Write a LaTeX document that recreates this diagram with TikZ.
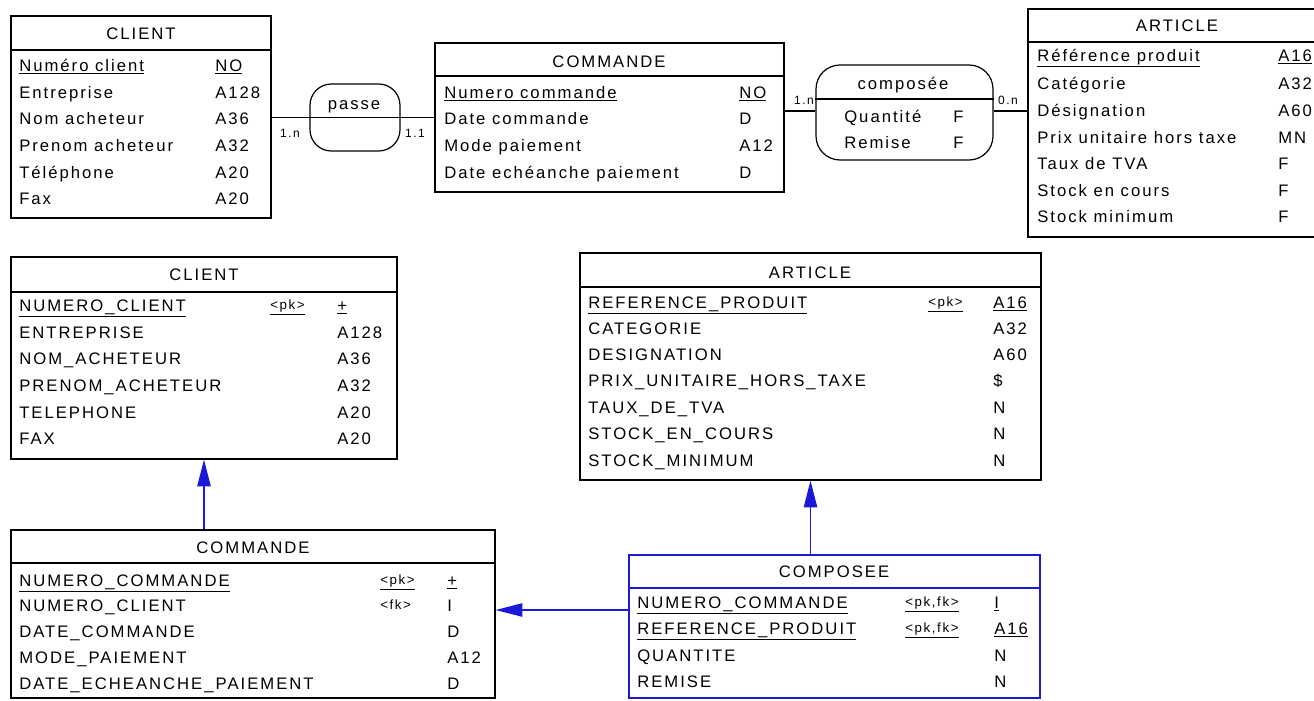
\documentclass[tikz,border=0pt]{standalone}
\usepackage{fontspec}
\setmainfont{Liberation Sans}[LetterSpace=12]
\usetikzlibrary{fit,arrows.meta}
\definecolor{pdblue}{RGB}{25,25,215}
\tikzset{
  table/.style={draw, inner sep=0pt, line width=0.9pt},
  assoc/.style={draw, inner sep=0pt, line width=0.9pt},
  headline/.style={line width=1.3pt},
  link/.style={line width=0.9pt},
  head/.style={inner sep=0pt, text height=9pt, text depth=0pt},
  attr/.style={anchor=west, inner sep=0pt, text height=9pt, text depth=0pt},
  key/.style={anchor=west, inner sep=0pt, text height=7pt, text depth=0pt, font=\fontsize{10}{12}\selectfont},
  card/.style={inner sep=0pt, font=\fontsize{9}{10}\selectfont},
  fk/.style={draw=pdblue, line width=0.9pt, -{Triangle[length=20pt,width=10pt]}}
}
\begin{document}
\begin{tikzpicture}[x=0.75pt,y=-0.75pt,font=\fontsize{12.5}{15}\selectfont]
  \path[use as bounding box, clip] (0,0) rectangle (1314,700);

  %% CLIENT (conceptual)
  \node[table, fit={(11,16) (271,218)}] (clientM) {};
  \draw[headline] (clientM.west |- 0,50) -- (clientM.east |- 0,50);
  \node[head] (clientM-h) at (141,33) {CLIENT};
  \node[attr] (clientM-1) at (19,65) {\underline{Numéro client}};
  \node[attr] (clientM-1t) at (215,65) {\underline{NO}};
  \node[attr] (clientM-2) at (19,92) {Entreprise};
  \node[attr] (clientM-2t) at (215,92) {A128};
  \node[attr] (clientM-3) at (19,118) {Nom acheteur};
  \node[attr] (clientM-3t) at (215,118) {A36};
  \node[attr] (clientM-4) at (19,145) {Prenom acheteur};
  \node[attr] (clientM-4t) at (215,145) {A32};
  \node[attr] (clientM-5) at (19,172) {Téléphone};
  \node[attr] (clientM-5t) at (215,172) {A20};
  \node[attr] (clientM-6) at (19,198) {Fax};
  \node[attr] (clientM-6t) at (215,198) {A20};

  %% COMMANDE (conceptual)
  \node[table, fit={(435,43) (784,192)}] (commandeM) {};
  \draw[headline] (commandeM.west |- 0,76) -- (commandeM.east |- 0,76);
  \node[head] (commandeM-h) at (609,61) {COMMANDE};
  \node[attr] (commandeM-1) at (444,92) {\underline{Numero commande}};
  \node[attr] (commandeM-1t) at (739,92) {\underline{NO}};
  \node[attr] (commandeM-2) at (444,118) {Date commande};
  \node[attr] (commandeM-2t) at (739,118) {D};
  \node[attr] (commandeM-3) at (444,145) {Mode paiement};
  \node[attr] (commandeM-3t) at (739,145) {A12};
  \node[attr] (commandeM-4) at (444,172) {Date echéanche paiement};
  \node[attr] (commandeM-4t) at (739,172) {D};

  %% ARTICLE (conceptual)
  \node[table, fit={(1028,9) (1326,237)}] (articleM) {};
  \draw[headline] (articleM.west |- 0,42) -- (articleM.east |- 0,42);
  \node[head] (articleM-h) at (1177,25) {ARTICLE};
  \node[attr] (articleM-1) at (1037,55) {\underline{Référence produit}};
  \node[attr] (articleM-1t) at (1278,55) {\underline{A16}};
  \node[attr] (articleM-2) at (1037,83) {Catégorie};
  \node[attr] (articleM-2t) at (1278,83) {A32};
  \node[attr] (articleM-3) at (1037,110) {Désignation};
  \node[attr] (articleM-3t) at (1278,110) {A60};
  \node[attr] (articleM-4) at (1037,137) {Prix unitaire hors taxe};
  \node[attr] (articleM-4t) at (1278,137) {MN};
  \node[attr] (articleM-5) at (1037,163) {Taux de TVA};
  \node[attr] (articleM-5t) at (1278,163) {F};
  \node[attr] (articleM-6) at (1037,190) {Stock en cours};
  \node[attr] (articleM-6t) at (1278,190) {F};
  \node[attr] (articleM-7) at (1037,216) {Stock minimum};
  \node[attr] (articleM-7t) at (1278,216) {F};

  %% passe
  \node[assoc, rounded corners=16pt, fit={(310,84) (400,151)}] (passe) {};
  \node[head] (passe-h) at (354,103) {passe};
  \draw[link] (clientM.east |- passe) -- (commandeM.west |- passe);
  \node[card] (passe-c1) at (290,133) {1.n};
  \node[card] (passe-c2) at (415,133) {1.1};

  %% composee
  \node[assoc, rounded corners=18pt, fit={(816,65) (993,160)}] (compo) {};
  \draw[link] (compo.west |- 0,99) -- (compo.east |- 0,99);
  \node[head] (compo-h) at (903,83) {composée};
  \node[attr] (compo-1) at (844,116) {Quantité};
  \node[attr] (compo-1t) at (953,116) {F};
  \node[attr] (compo-2) at (844,142) {Remise};
  \node[attr] (compo-2t) at (953,142) {F};
  \draw[link] (commandeM.east |- 0,111) -- (compo.west |- 0,111);
  \draw[link] (compo.east |- 0,111) -- (articleM.west |- 0,111);
  \node[card] (compo-c1) at (804,100) {1.n};
  \node[card] (compo-c2) at (1008,100) {0.n};

  %% CLIENT (physical)
  \node[table, fit={(11,257) (397,459)}] (clientP) {};
  \draw[headline] (clientP.west |- 0,292) -- (clientP.east |- 0,292);
  \node[head] (clientP-h) at (204,274) {CLIENT};
  \node[attr] (clientP-1) at (19,305) {\underline{NUMERO\_CLIENT}};
  \node[key] (clientP-1k) at (270,305) {\underline{<pk>}};
  \node[attr] (clientP-1t) at (337,305) {\underline{+}};
  \node[attr] (clientP-2) at (19,332) {ENTREPRISE};
  \node[attr] (clientP-2t) at (337,332) {A128};
  \node[attr] (clientP-3) at (19,358) {NOM\_ACHETEUR};
  \node[attr] (clientP-3t) at (337,358) {A36};
  \node[attr] (clientP-4) at (19,385) {PRENOM\_ACHETEUR};
  \node[attr] (clientP-4t) at (337,385) {A32};
  \node[attr] (clientP-5) at (19,412) {TELEPHONE};
  \node[attr] (clientP-5t) at (337,412) {A20};
  \node[attr] (clientP-6) at (19,438) {FAX};
  \node[attr] (clientP-6t) at (337,438) {A20};

  %% ARTICLE (physical)
  \node[table, fit={(580,253) (1041,480)}] (articleP) {};
  \draw[headline] (articleP.west |- 0,287) -- (articleP.east |- 0,287);
  \node[head] (articleP-h) at (810,272) {ARTICLE};
  \node[attr] (articleP-1) at (588,302) {\underline{REFERENCE\_PRODUIT}};
  \node[key] (articleP-1k) at (928,302) {\underline{<pk>}};
  \node[attr] (articleP-1t) at (993,302) {\underline{A16}};
  \node[attr] (articleP-2) at (588,328) {CATEGORIE};
  \node[attr] (articleP-2t) at (993,328) {A32};
  \node[attr] (articleP-3) at (588,354) {DESIGNATION};
  \node[attr] (articleP-3t) at (993,354) {A60};
  \node[attr] (articleP-4) at (588,380) {PRIX\_UNITAIRE\_HORS\_TAXE};
  \node[attr] (articleP-4t) at (993,380) {\$};
  \node[attr] (articleP-5) at (588,407) {TAUX\_DE\_TVA};
  \node[attr] (articleP-5t) at (993,407) {N};
  \node[attr] (articleP-6) at (588,433) {STOCK\_EN\_COURS};
  \node[attr] (articleP-6t) at (993,433) {N};
  \node[attr] (articleP-7) at (588,460) {STOCK\_MINIMUM};
  \node[attr] (articleP-7t) at (993,460) {N};

  %% COMMANDE (physical)
  \node[table, fit={(11,530) (495,698)}] (commandeP) {};
  \draw[headline] (commandeP.west |- 0,563) -- (commandeP.east |- 0,563);
  \node[head] (commandeP-h) at (253,547) {COMMANDE};
  \node[attr] (commandeP-1) at (19,580) {\underline{NUMERO\_COMMANDE}};
  \node[key] (commandeP-1k) at (380,580) {\underline{<pk>}};
  \node[attr] (commandeP-1t) at (447,580) {\underline{+}};
  \node[attr] (commandeP-2) at (19,605) {NUMERO\_CLIENT};
  \node[key] (commandeP-2k) at (380,605) {<fk>};
  \node[attr] (commandeP-2t) at (447,605) {I};
  \node[attr] (commandeP-3) at (19,631) {DATE\_COMMANDE};
  \node[attr] (commandeP-3t) at (447,631) {D};
  \node[attr] (commandeP-4) at (19,657) {MODE\_PAIEMENT};
  \node[attr] (commandeP-4t) at (447,657) {A12};
  \node[attr] (commandeP-5) at (19,683) {DATE\_ECHEANCHE\_PAIEMENT};
  \node[attr] (commandeP-5t) at (447,683) {D};

  %% COMPOSEE (physical)
  \node[table, draw=pdblue, fit={(629,555) (1040,698)}] (composeeP) {};
  \draw[headline, pdblue] (composeeP.west |- 0,588) -- (composeeP.east |- 0,588);
  \node[head] (composeeP-h) at (834,571) {COMPOSEE};
  \node[attr] (composeeP-1) at (637,602) {\underline{NUMERO\_COMMANDE}};
  \node[key] (composeeP-1k) at (905,602) {\underline{<pk,fk>}};
  \node[attr] (composeeP-1t) at (994,602) {\underline{I}};
  \node[attr] (composeeP-2) at (637,628) {\underline{REFERENCE\_PRODUIT}};
  \node[key] (composeeP-2k) at (905,628) {\underline{<pk,fk>}};
  \node[attr] (composeeP-2t) at (994,628) {\underline{A16}};
  \node[attr] (composeeP-3) at (637,655) {QUANTITE};
  \node[attr] (composeeP-3t) at (994,655) {N};
  \node[attr] (composeeP-4) at (637,681) {REMISE};
  \node[attr] (composeeP-4t) at (994,681) {N};

  %% references
  \draw[fk] (clientP.south |- commandeP.north) -- (clientP.south);
  \draw[fk] (articleP.south |- composeeP.north) -- (articleP.south);
  \draw[fk] (composeeP.west |- 0,610) -- (commandeP.east |- 0,610);
\end{tikzpicture}
\end{document}
